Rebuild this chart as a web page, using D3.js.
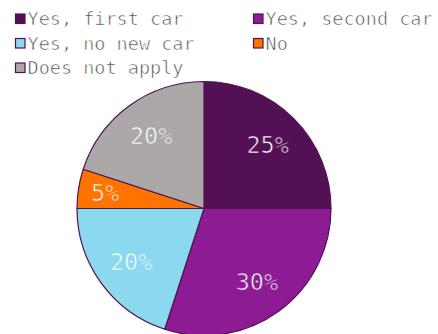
<!DOCTYPE html>
<html>
<head>
<meta charset="utf-8">
<script src="https://cdn.jsdelivr.net/npm/d3@7"></script>
<style>
  html, body { margin: 0; padding: 0; background: #fff; }
  svg { display: block; }
  text { font-family: "DejaVu Sans Mono", monospace; }
</style>
</head>
<body>
<svg id="chart" width="438" height="334"></svg>
<script>
// Survey answers and their shares (percent)
const categories = ["Yes, first car", "Yes, second car", "Yes, no new car", "No", "Does not apply"];
const shares = [25, 30, 20, 5, 20];
const colors = ["#541054", "#8d1b94", "#8bd9ef", "#ff7300", "#aca8a7"];

const svg = d3.select("#chart");
const cx = 204, cy = 208.5, R = 127;
const stroke = "#541054";

// Legend: two columns, filled from left to right
const legend = svg.append("g");
const colX = [15, 253];
const rowY = [13.5, 38, 62.5];
categories.forEach((name, i) => {
  const g = legend.append("g")
    .attr("transform", `translate(${colX[i % 2]},${rowY[Math.floor(i / 2)]})`);
  g.append("rect")
    .attr("x", 0.5).attr("y", 0.5)
    .attr("width", 9.5).attr("height", 9.5)
    .attr("fill", colors[i])
    .attr("stroke", stroke).attr("stroke-width", 1.2);
  // a thin stroke in the page colour, painted over the glyphs, keeps the type light
  g.append("text")
    .attr("x", 12.5).attr("y", 11.5)
    .attr("font-size", 18.5)
    .attr("fill", "#4a4a4a")
    .attr("stroke", "#fff").attr("stroke-width", 0.6)
    .text(name);
});

// Pie, starting at 12 o'clock and running clockwise
const data = categories.map((c, i) => ({ name: c, value: shares[i], color: colors[i] }));
const pie = d3.pie().value(d => d.value).sort(null);
const arcs = pie(data);
const arc = d3.arc().innerRadius(0).outerRadius(R);

const g = svg.append("g").attr("transform", `translate(${cx},${cy})`);
g.selectAll("path")
  .data(arcs)
  .join("path")
  .attr("d", arc)
  .attr("fill", d => d.data.color)
  .attr("stroke", stroke)
  .attr("stroke-width", 1.2)
  .attr("stroke-linejoin", "round");

// Percentage labels; thin slices get their label pushed further out
const labelArc = r => d3.arc().innerRadius(r).outerRadius(r);
g.selectAll("text.pct")
  .data(arcs)
  .join("text")
  .attr("class", "pct")
  .attr("transform", d => {
    const r = d.data.value < 10 ? 100 : 90;
    const [x, y] = labelArc(r).centroid(d);
    return `translate(${x},${y})`;
  })
  .attr("text-anchor", "middle")
  .attr("dy", "0.36em")
  .attr("font-size", 23.5)
  .attr("fill", "#fff")
  .attr("stroke", d => d.data.color).attr("stroke-width", 0.7)
  .text(d => d.data.value + "%");
</script>
</body>
</html>
